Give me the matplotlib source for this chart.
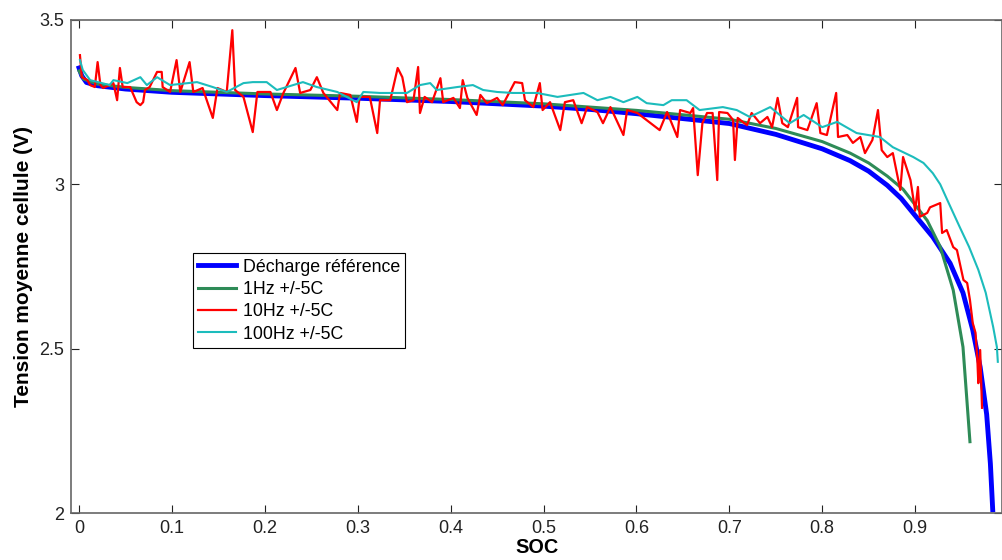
import matplotlib
matplotlib.use("Agg")
import matplotlib.pyplot as plt

plt.rcParams['font.family'] = ['Liberation Sans', 'DejaVu Sans']

# Décharge référence
soc_ref = [0, 0.003, 0.008, 0.02, 0.05, 0.1, 0.15, 0.2, 0.3, 0.4, 0.5, 0.55, 0.6, 0.65, 0.7,
           0.75, 0.8, 0.83, 0.85, 0.87, 0.885, 0.898, 0.919, 0.9376, 0.9515, 0.962, 0.970, 0.977,
           0.981, 0.9835]
v_ref = [3.354, 3.33, 3.31, 3.30, 3.29, 3.28, 3.275, 3.27, 3.262, 3.252, 3.238, 3.228, 3.215, 3.2, 3.185,
         3.152, 3.108, 3.072, 3.04, 2.997, 2.957, 2.912, 2.84, 2.76, 2.67, 2.557, 2.444, 2.30,
         2.15, 2.01]

# 1Hz +/-5C
soc_1hz = [0, 0.005, 0.02, 0.05, 0.1, 0.2, 0.3, 0.4, 0.5, 0.6, 0.7, 0.75, 0.8, 0.83, 0.85, 0.87,
           0.887, 0.913, 0.927, 0.941, 0.9515, 0.959]
v_1hz = [3.345, 3.32, 3.305, 3.295, 3.285, 3.275, 3.268, 3.258, 3.245, 3.225, 3.198, 3.17, 3.13, 3.095,
         3.065, 3.025, 2.985, 2.89, 2.81, 2.678, 2.505, 2.217]

# 10Hz +/-5C
soc_10hz = [0.001, 0.003, 0.009, 0.012, 0.017, 0.020, 0.023, 0.026, 0.037, 0.041, 0.044, 0.047, 0.055,
            0.062, 0.066, 0.069, 0.071, 0.076, 0.084, 0.089, 0.090, 0.098, 0.105, 0.109, 0.119, 0.123,
            0.133, 0.144, 0.149, 0.159, 0.165, 0.168, 0.177, 0.187, 0.192, 0.206, 0.213, 0.220, 0.233,
            0.238, 0.249, 0.256, 0.263, 0.278, 0.281, 0.292, 0.299, 0.302, 0.313, 0.321, 0.324, 0.335,
            0.343, 0.348, 0.353, 0.360, 0.365, 0.367, 0.372, 0.380, 0.389, 0.392, 0.403, 0.410, 0.413,
            0.418, 0.428, 0.432, 0.439, 0.450, 0.456, 0.469, 0.477, 0.480, 0.489, 0.496, 0.499, 0.507,
            0.518, 0.523, 0.532, 0.541, 0.547, 0.558, 0.564, 0.572, 0.586, 0.590, 0.601, 0.625, 0.633,
            0.644, 0.647, 0.658, 0.661, 0.666, 0.671, 0.676, 0.682, 0.687, 0.689, 0.698, 0.704, 0.706,
            0.709, 0.719, 0.724, 0.733, 0.741, 0.746, 0.752, 0.757, 0.763, 0.773, 0.774, 0.784, 0.794,
            0.798, 0.805, 0.815, 0.817, 0.827, 0.833, 0.841, 0.846, 0.854, 0.860, 0.864, 0.870, 0.876,
            0.884, 0.887, 0.895, 0.900, 0.903, 0.905, 0.913, 0.916, 0.927, 0.929, 0.934, 0.941, 0.945,
            0.948, 0.952, 0.956, 0.959, 0.962, 0.965, 0.967, 0.968, 0.970, 0.972]
v_10hz = [3.393, 3.326, 3.317, 3.302, 3.296, 3.372, 3.302, 3.293, 3.308, 3.256, 3.354, 3.296, 3.296,
          3.250, 3.241, 3.250, 3.287, 3.296, 3.342, 3.342, 3.296, 3.281, 3.378, 3.281, 3.372, 3.281,
          3.293, 3.202, 3.293, 3.281, 3.469, 3.287, 3.266, 3.159, 3.281, 3.281, 3.226, 3.278, 3.354,
          3.278, 3.287, 3.326, 3.278, 3.226, 3.278, 3.272, 3.190, 3.266, 3.266, 3.156, 3.256, 3.256,
          3.354, 3.326, 3.250, 3.256, 3.357, 3.217, 3.266, 3.250, 3.323, 3.250, 3.263, 3.232, 3.317,
          3.263, 3.211, 3.272, 3.247, 3.263, 3.241, 3.311, 3.308, 3.256, 3.235, 3.308, 3.226, 3.250,
          3.165, 3.250, 3.256, 3.186, 3.235, 3.220, 3.186, 3.235, 3.150, 3.226, 3.217, 3.165, 3.220,
          3.144, 3.226, 3.217, 3.232, 3.028, 3.186, 3.217, 3.217, 3.013, 3.220, 3.217, 3.196, 3.074,
          3.202, 3.180, 3.217, 3.186, 3.205, 3.174, 3.263, 3.186, 3.174, 3.263, 3.174, 3.165, 3.247,
          3.156, 3.150, 3.278, 3.144, 3.150, 3.126, 3.144, 3.095, 3.135, 3.226, 3.104, 3.083, 3.095,
          2.983, 3.083, 3.013, 2.920, 2.992, 2.901, 2.913, 2.930, 2.943, 2.852, 2.861, 2.809, 2.800,
          2.761, 2.709, 2.700, 2.648, 2.578, 2.548, 2.465, 2.395, 2.496, 2.320]

# 100Hz +/-5C
soc_100hz = [0.001, 0.004, 0.012, 0.033, 0.037, 0.052, 0.066, 0.073, 0.084, 0.098, 0.127, 0.144, 0.159,
             0.177, 0.187, 0.202, 0.213, 0.241, 0.256, 0.278, 0.299, 0.306, 0.324, 0.335, 0.353, 0.367,
             0.378, 0.385, 0.407, 0.424, 0.435, 0.450, 0.467, 0.493, 0.515, 0.543, 0.558, 0.572, 0.586,
             0.601, 0.611, 0.629, 0.638, 0.654, 0.668, 0.693, 0.708, 0.722, 0.744, 0.765, 0.780, 0.800,
             0.816, 0.837, 0.862, 0.876, 0.898, 0.909, 0.919, 0.927, 0.935, 0.948, 0.958, 0.968, 0.976,
             0.984, 0.987, 0.988, 0.989]
v_100hz = [3.378, 3.348, 3.317, 3.302, 3.317, 3.308, 3.326, 3.302, 3.326, 3.302, 3.311, 3.296, 3.281,
           3.308, 3.311, 3.311, 3.287, 3.311, 3.296, 3.281, 3.250, 3.281, 3.278, 3.278, 3.278, 3.302,
           3.308, 3.287, 3.296, 3.302, 3.287, 3.281, 3.278, 3.278, 3.266, 3.278, 3.256, 3.266, 3.250,
           3.266, 3.247, 3.241, 3.256, 3.256, 3.226, 3.235, 3.226, 3.205, 3.235, 3.186, 3.211, 3.174,
           3.190, 3.156, 3.144, 3.113, 3.083, 3.065, 3.034, 3.000, 2.950, 2.870, 2.810, 2.740, 2.670,
           2.566, 2.520, 2.505, 2.460]

labels = ['Décharge référence', '1Hz +/-5C', '10Hz +/-5C', '100Hz +/-5C']
xticks = [0, 0.1, 0.2, 0.3, 0.4, 0.5, 0.6, 0.7, 0.8, 0.9]
yticks = [2, 2.5, 3, 3.5]

fig = plt.figure(figsize=(10.02, 5.6), dpi=100)
ax = fig.add_axes([0.0709, 0.0839, 0.9291, 0.8804])

ax.plot(soc_ref, v_ref, color='#0000ff', lw=3.5, label=labels[0])
ax.plot(soc_1hz, v_1hz, color='#2e8b57', lw=2.2, label=labels[1])
ax.plot(soc_10hz, v_10hz, color='#ff0000', lw=1.6, label=labels[2])
ax.plot(soc_100hz, v_100hz, color='#1cbcbc', lw=1.5, label=labels[3])

ax.set_xlim(-0.0086, 0.9935)
ax.set_ylim(2, 3.5)
ax.set_xticks(xticks)
ax.set_xticklabels(['0', '0.1', '0.2', '0.3', '0.4', '0.5', '0.6', '0.7', '0.8', '0.9'])
ax.set_yticks(yticks)
ax.set_yticklabels(['2', '2.5', '3', '3.5'])
ax.tick_params(direction='in', length=6, width=0.8, top=True, right=True,
               labelsize=13, pad=5, colors='#222222')
for s in ax.spines.values():
    s.set_color('#666666')
    s.set_linewidth(1.2)

ax.set_xlabel('SOC', fontsize=14.3, fontweight='bold', labelpad=1)
ax.set_ylabel('Tension moyenne cellule (V)', fontsize=15, fontweight='bold', labelpad=4.5)

leg = ax.legend(loc='upper left', bbox_to_anchor=(0.131, 0.527), borderaxespad=0,
                fontsize=12.8, fancybox=False, edgecolor='black', framealpha=1,
                handlelength=2.1, handletextpad=0.4, labelspacing=0.3, borderpad=0.3)
leg.get_frame().set_linewidth(0.8)

fig.savefig('out.png', dpi=100)
